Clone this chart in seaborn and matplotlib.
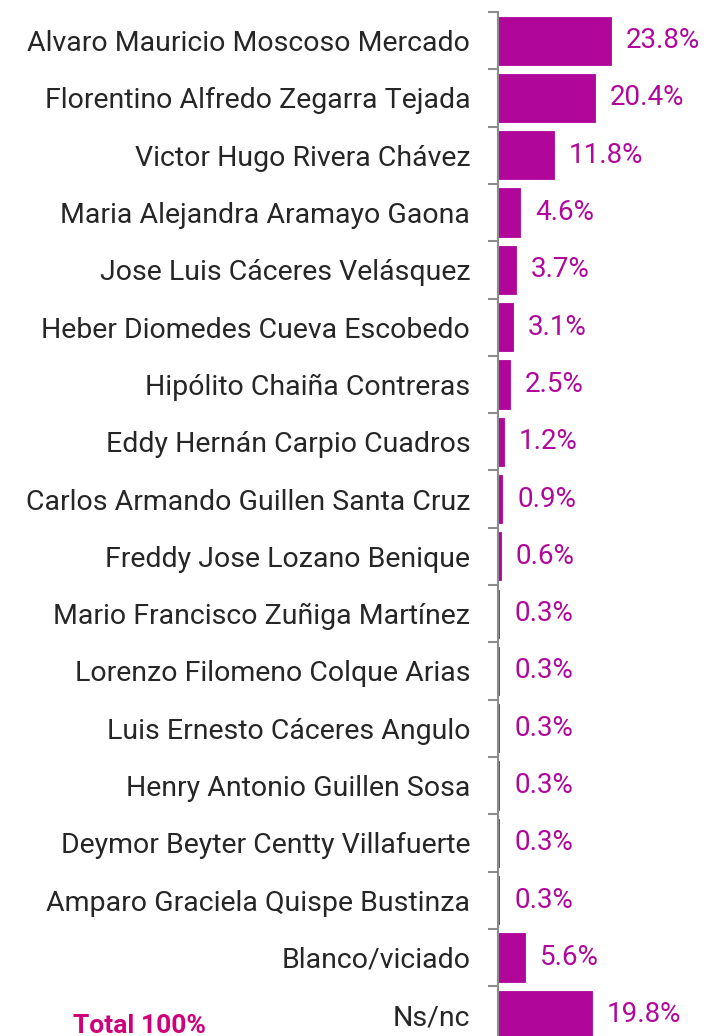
import matplotlib
matplotlib.use("Agg")
import matplotlib.pyplot as plt
import seaborn as sns
import pandas as pd
import numpy as np

categories = [
    "Alvaro Mauricio Moscoso Mercado",
    "Florentino Alfredo Zegarra Tejada",
    "Victor Hugo Rivera Chávez",
    "Maria Alejandra Aramayo Gaona",
    "Jose Luis Cáceres Velásquez",
    "Heber Diomedes Cueva Escobedo",
    "Hipólito Chaiña Contreras",
    "Eddy Hernán Carpio Cuadros",
    "Carlos Armando Guillen Santa Cruz",
    "Freddy Jose Lozano Benique",
    "Mario Francisco Zuñiga Martínez",
    "Lorenzo Filomeno Colque Arias",
    "Luis Ernesto Cáceres Angulo",
    "Henry Antonio Guillen Sosa",
    "Deymor Beyter Centty Villafuerte",
    "Amparo Graciela Quispe Bustinza",
    "Blanco/viciado",
    "Ns/nc",
]
values = [23.8, 20.4, 11.8, 4.6, 3.7, 3.1, 2.5, 1.2, 0.9, 0.6,
          0.3, 0.3, 0.3, 0.3, 0.3, 0.3, 5.6, 19.8]
labels = [f"{v:.1f}%" for v in values]

df = pd.DataFrame({"cat": categories, "val": values})

sns.set_style("white")
plt.rcParams['font.family'] = ['Roboto', 'DejaVu Sans']

W, H = 706, 1036
fig = plt.figure(figsize=(W / 100, H / 100), dpi=100)
left_px, right_px = 498, 706
top_px = 12
band = 57.3
n = len(categories)
bottom_px = top_px + band * n
ax = fig.add_axes([left_px / W, 1 - bottom_px / H, (right_px - left_px) / W, (bottom_px - top_px) / H])

bar_color = "#B0069A"
sns.barplot(data=df, x="val", y="cat", orient="h", color=bar_color,
            width=0.84, saturation=1, edgecolor=bar_color, linewidth=0.6, ax=ax)

px_per_unit = 4.75
ax.set_xlim(0, (right_px - left_px) / px_per_unit)
ax.set_ylim(n - 0.5, -0.5)

for i, (v, lab) in enumerate(zip(values, labels)):
    ax.annotate(lab, xy=(v, i), xytext=(15, 0), textcoords="offset pixels",
                va="center", ha="left", fontsize=20, color="#B0089B")

ax.set_xlabel("")
ax.set_ylabel("")
ax.set_xticks([])
for s in ["top", "right", "bottom"]:
    ax.spines[s].set_visible(False)
ax.spines["left"].set_color("#8C8C8C")
ax.spines["left"].set_linewidth(1.5)

ax.set_yticks(np.arange(n))
ax.set_yticklabels(categories, fontsize=20.5, color="#262626")
ax.tick_params(axis="y", which="major", left=False, length=0, pad=20)
ax.set_yticks(np.arange(n + 1) - 0.5, minor=True)
ax.tick_params(axis="y", which="minor", left=True, length=7, width=1.5,
               color="#8C8C8C", direction="out")

fig.text(73 / W, 1 - 1033 / H, "Total 100%", fontsize=19, fontweight="bold",
         color="#D0007A", ha="left", va="baseline")

fig.savefig("out.png", dpi=100)
